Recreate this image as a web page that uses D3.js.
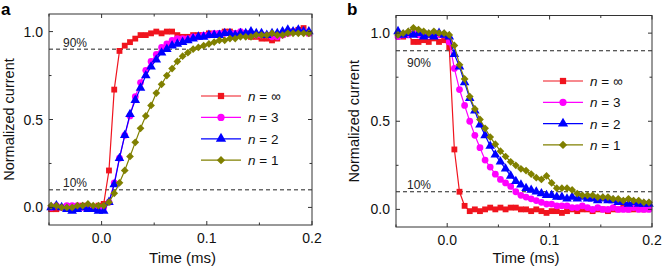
<!DOCTYPE html>
<html>
<head>
<meta charset="utf-8">
<script src="https://cdn.jsdelivr.net/npm/d3@7"></script>
<style>
  body { margin: 0; background: #fff; }
  svg { font-family: "Liberation Sans", Arial, sans-serif; }
</style>
</head>
<body>
<div id="chart"></div>
<script>
// sampling times (ms), shared by both panels
const time = [-0.048, -0.043, -0.038, -0.033, -0.028, -0.023, -0.018, -0.013, -0.008, -0.003,
  0.002, 0.007, 0.012, 0.017, 0.022, 0.027, 0.032, 0.037, 0.042, 0.047,
  0.052, 0.057, 0.062, 0.067, 0.072, 0.077, 0.082, 0.087, 0.092, 0.097,
  0.102, 0.107, 0.112, 0.117, 0.122, 0.127, 0.132, 0.137, 0.142, 0.147,
  0.152, 0.157, 0.162, 0.167, 0.172, 0.177, 0.182, 0.187, 0.192, 0.197];

const seriesNames = ["n = \u221e", "n = 3", "n = 2", "n = 1"];
const xTicks = [0.0, 0.1, 0.2];
const yTicks = [0.0, 0.5, 1.0];

// panel a: rise
const riseInf = [-0.01, -0.01, 0.0, 0.0, -0.01, 0.0, 0.01, 0.0, 0.0, 0.01,
  0.02, 0.21, 0.67, 0.89, 0.92, 0.94, 0.96, 0.98, 0.98, 0.99,
  1.0, 0.99, 1.0, 1.0, 0.98, 0.97, 0.97, 0.98, 0.98, 0.98,
  0.99, 0.98, 0.99, 1.0, 1.0, 0.99, 0.98, 0.99, 0.97, 0.97,
  0.96, 0.96, 0.95, 0.96, 0.98, 0.99, 1.0, 1.01, 1.02, 0.99];
const rise3 = [0.0, 0.01, 0.0, 0.01, 0.01, 0.01, 0.0, 0.01, 0.0, 0.0,
  0.0, 0.03, 0.14, 0.28, 0.41, 0.52, 0.63, 0.71, 0.78, 0.83,
  0.87, 0.91, 0.93, 0.95, 0.96, 0.96, 0.96, 0.97, 0.97, 0.98,
  0.98, 0.99, 0.99, 0.99, 0.99, 0.99, 1.0, 0.99, 0.99, 0.98,
  0.98, 0.98, 0.97, 0.97, 0.98, 0.99, 1.0, 1.0, 1.0, 0.99];
const rise2 = [0.0, 0.01, 0.0, -0.01, -0.02, -0.01, 0.0, -0.01, -0.01, -0.02,
  -0.02, 0.03, 0.13, 0.28, 0.41, 0.53, 0.61, 0.68, 0.75, 0.80,
  0.84, 0.88, 0.90, 0.92, 0.93, 0.94, 0.95, 0.96, 0.97, 0.97,
  0.98, 0.98, 0.98, 0.99, 0.99, 0.98, 0.99, 0.99, 1.0, 0.99,
  0.99, 0.98, 0.99, 0.99, 1.0, 1.01, 1.0, 1.01, 1.0, 1.0];
const rise1 = [0.01, 0.01, 0.0, 0.0, 0.0, 0.01, 0.01, 0.02, 0.01, 0.01,
  0.01, 0.03, 0.08, 0.14, 0.21, 0.29, 0.37, 0.45, 0.52, 0.58,
  0.65, 0.70, 0.75, 0.79, 0.83, 0.86, 0.88, 0.90, 0.91, 0.92,
  0.93, 0.94, 0.95, 0.95, 0.96, 0.96, 0.97, 0.97, 0.97, 0.98,
  0.98, 0.98, 0.99, 0.98, 0.98, 0.99, 0.99, 0.99, 0.99, 0.99];

// panel b: fall
const fallInf = [0.99, 0.98, 0.99, 0.95, 0.95, 0.96, 0.95, 0.97, 0.95, 0.96,
  0.92, 0.34, 0.10, 0.02, -0.01, 0.0, -0.01, 0.0, 0.01, 0.0,
  0.01, 0.0, 0.01, 0.01, 0.0, 0.0, -0.01, 0.0, -0.01, -0.02,
  -0.01, -0.01, -0.02, -0.01, 0.0, -0.01, 0.0, 0.0, -0.01, 0.0,
  0.0, -0.01, 0.0, 0.0, 0.01, 0.0, 0.0, 0.01, 0.0, 0.01];
const fall3 = [0.98, 0.99, 0.99, 1.0, 0.99, 1.0, 0.99, 1.0, 0.99, 0.99,
  0.95, 0.80, 0.68, 0.59, 0.50, 0.42, 0.35, 0.28, 0.24, 0.20,
  0.17, 0.15, 0.13, 0.10, 0.08, 0.07, 0.06, 0.05, 0.04, 0.03,
  0.03, 0.02, 0.02, 0.02, 0.01, 0.01, 0.02, 0.01, 0.0, 0.01,
  0.0, 0.0, 0.01, 0.0, 0.0, 0.0, 0.01, 0.0, 0.0, 0.0];
const fall2 = [1.01, 0.99, 1.0, 0.99, 1.0, 0.98, 0.99, 0.98, 1.0, 0.99,
  0.98, 0.88, 0.81, 0.72, 0.63, 0.56, 0.48, 0.42, 0.36, 0.31,
  0.27, 0.23, 0.19, 0.16, 0.14, 0.12, 0.11, 0.10, 0.09, 0.08,
  0.08, 0.07, 0.07, 0.06, 0.07, 0.06, 0.07, 0.06, 0.06, 0.05,
  0.06, 0.05, 0.05, 0.04, 0.04, 0.03, 0.04, 0.03, 0.03, 0.03];
const fall1 = [0.99, 1.0, 1.01, 1.03, 1.02, 1.01, 1.0, 1.01, 1.0, 1.0,
  0.99, 0.93, 0.82, 0.74, 0.64, 0.57, 0.51, 0.46, 0.41, 0.37,
  0.33, 0.30, 0.27, 0.25, 0.23, 0.22, 0.20, 0.18, 0.17, 0.19,
  0.15, 0.12, 0.12, 0.12, 0.11, 0.09, 0.08, 0.08, 0.08, 0.07,
  0.07, 0.07, 0.06, 0.06, 0.05, 0.06, 0.05, 0.05, 0.04, 0.04];

const colors = ["#f0141e", "#ff00ff", "#0000ff", "#808000"];
const symbols = [d3.symbolSquare, d3.symbolCircle, d3.symbolTriangle, d3.symbolSquare];
const symSize = [34, 36, 40, 30];
const symRot = [0, 0, 0, 45];

const W = 662, H = 269;
const svg = d3.select("#chart").append("svg")
    .attr("width", W)
    .attr("height", H);

function drawPanel(p) {
  const x = d3.scaleLinear().domain([-0.05, 0.2]).range([p.left, p.right]);
  const y = d3.scaleLinear().domain([-0.1, 1.1]).range([p.bottom, p.top]);
  const g = svg.append("g");

  // dashed 10% / 90% lines
  [0.9, 0.1].forEach(v => {
    g.append("line")
      .attr("x1", p.left).attr("x2", p.right)
      .attr("y1", y(v)).attr("y2", y(v))
      .attr("stroke", "#222").attr("stroke-width", 1)
      .attr("stroke-dasharray", "4,3");
  });

  // series, olive drawn last (on top)
  p.series.forEach((vals, k) => {
    const pts = vals.map((v, i) => [time[i], v]);
    g.append("path")
      .datum(pts)
      .attr("fill", "none")
      .attr("stroke", colors[k])
      .attr("stroke-width", 1.2)
      .attr("d", d3.line().x(d => x(d[0])).y(d => y(d[1])));
    g.append("g").selectAll("path")
      .data(pts)
      .join("path")
        .attr("transform", d => `translate(${x(d[0])},${y(d[1])}) rotate(${symRot[k]})`)
        .attr("d", d3.symbol(symbols[k], symSize[k]))
        .attr("fill", colors[k]);
  });

  // frame
  g.append("rect")
    .attr("x", p.left).attr("y", p.top)
    .attr("width", p.right - p.left).attr("height", p.bottom - p.top)
    .attr("fill", "none").attr("stroke", "#333").attr("stroke-width", 1);

  // inward ticks on all four sides
  const xt = [-0.05, 0.0, 0.05, 0.1, 0.15, 0.2];
  const yt = [0.0, 0.25, 0.5, 0.75, 1.0];
  const tk = g.append("g").attr("stroke", "#333").attr("stroke-width", 1);
  xt.forEach(v => {
    const len = xTicks.includes(v) ? 4 : 2.5;
    tk.append("line").attr("x1", x(v)).attr("x2", x(v)).attr("y1", p.bottom).attr("y2", p.bottom - len);
    tk.append("line").attr("x1", x(v)).attr("x2", x(v)).attr("y1", p.top).attr("y2", p.top + len);
  });
  yt.forEach(v => {
    const len = yTicks.includes(v) ? 4 : 2.5;
    tk.append("line").attr("y1", y(v)).attr("y2", y(v)).attr("x1", p.left).attr("x2", p.left + len);
    tk.append("line").attr("y1", y(v)).attr("y2", y(v)).attr("x1", p.right).attr("x2", p.right - len);
  });

  // tick labels
  g.selectAll(".xl").data(xTicks).join("text")
    .attr("x", d => x(d)).attr("y", p.bottom + 17.5)
    .attr("text-anchor", "middle").attr("font-size", 14).attr("fill", "#111")
    .text(d => d.toFixed(1));
  g.selectAll(".yl").data(yTicks).join("text")
    .attr("x", p.left - 6).attr("y", d => y(d) + 5)
    .attr("text-anchor", "end").attr("font-size", 14).attr("fill", "#111")
    .text(d => d.toFixed(1));

  // axis titles
  g.append("text")
    .attr("x", (p.left + p.right) / 2 + 2).attr("y", 263)
    .attr("text-anchor", "middle").attr("font-size", 15).attr("fill", "#111")
    .text("Time (ms)");
  g.append("text")
    .attr("transform", `translate(${p.ylabX},${(p.top + p.bottom) / 2}) rotate(-90)`)
    .attr("text-anchor", "middle").attr("font-size", 14.5).attr("fill", "#111")
    .text("Normalized current");

  // panel letter
  g.append("text")
    .attr("x", p.letterX).attr("y", 15)
    .attr("font-size", 17).attr("font-weight", "bold").attr("fill", "#000")
    .text(p.letter);

  // 90% / 10% labels
  g.append("text").attr("x", p.pctX).attr("y", p.y90)
    .attr("font-size", 12).attr("fill", "#222").text("90%");
  g.append("text").attr("x", p.pctX).attr("y", y(0.1) - 3)
    .attr("font-size", 12).attr("fill", "#222").text("10%");

  // legend
  seriesNames.forEach((name, k) => {
    const ly = p.legY + k * p.legStep;
    const lg = g.append("g");
    lg.append("line")
      .attr("x1", p.legX).attr("x2", p.legX + 40)
      .attr("y1", ly).attr("y2", ly)
      .attr("stroke", colors[k]).attr("stroke-width", 1.2);
    lg.append("path")
      .attr("transform", `translate(${p.legX + 20},${ly}) rotate(${symRot[k]})`)
      .attr("d", d3.symbol(symbols[k], symSize[k] * 1.15))
      .attr("fill", colors[k]);
    const t = lg.append("text")
      .attr("x", p.legX + 47).attr("y", ly + 5)
      .attr("font-size", 13.5).attr("fill", "#111");
    t.append("tspan").attr("font-style", "italic").text("n");
    t.append("tspan").text(name.slice(1));
  });
}

drawPanel({
  letter: "a", letterX: 1,
  left: 49, right: 312, top: 14, bottom: 225,
  ylabX: 14, pctX: 63, y90: 47,
  legX: 201, legY: 96, legStep: 21.4,
  series: [riseInf, rise3, rise2, rise1]
});

drawPanel({
  letter: "b", letterX: 347,
  left: 396, right: 652, top: 15.5, bottom: 227,
  ylabX: 359, pctX: 407, y90: 67,
  legX: 543, legY: 81, legStep: 21.3,
  series: [fallInf, fall3, fall2, fall1]
});
</script>
</body>
</html>
